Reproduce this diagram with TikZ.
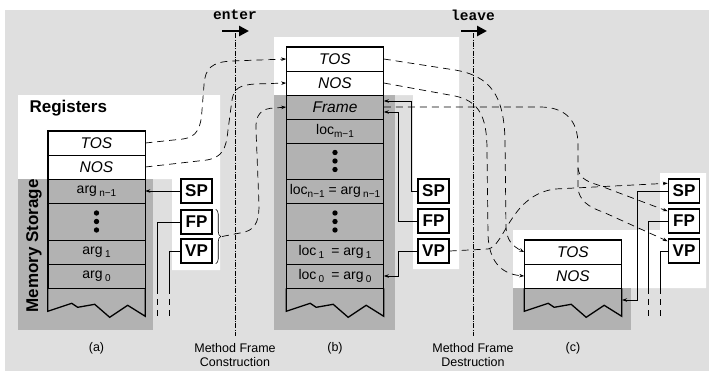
\documentclass[tikz,border=0pt]{standalone}
\usepackage{fontspec}
\setmainfont{Liberation Sans}
\setmonofont{Liberation Mono}
\usetikzlibrary{arrows.meta,decorations.pathreplacing}
\definecolor{bggray}{gray}{0.875}
\definecolor{memgray}{gray}{0.70}
\newcommand\cellfont{\fontsize{14}{16}\selectfont}
\newcommand\itfont{\fontsize{15.5}{17}\selectfont\itshape}
\newcommand\boldfont{\fontsize{17}{19}\selectfont\bfseries}
\newcommand\capfont{\fontsize{12.5}{14.5}\selectfont}
\newcommand\cmdfont{\fontsize{14.5}{16}\selectfont\ttfamily\bfseries}
\newcommand\lowsub[1]{\raisebox{-0.4ex}{\fontsize{10}{10}\selectfont #1}}
\newcommand\stackbottom[1]{%
  \draw[frameline] (#1.south west) -- ++(0,23) -- ++(24,-8) -- ++(6,4) -- ++(17,-3)
    -- ++(15,13) -- ++(18,-12) -- ([yshift=-28pt]#1.south east) -- (#1.south east);}
\begin{document}
\begin{tikzpicture}[x=1pt,y=-1pt,
  >={Stealth[length=5pt,width=3.5pt]},
  cell/.style={draw,line width=0.6pt,fill=memgray,minimum width=97pt,minimum height=24pt,inner sep=0pt,font=\cellfont},
  reg/.style={cell,fill=white,font=\itfont},
  ptr/.style={draw,line width=1.5pt,fill=white,minimum width=31pt,minimum height=24pt,inner sep=0pt,font=\boldfont},
  frameline/.style={line width=1.3pt},
  flow/.style={dash pattern=on 7pt off 5pt,line width=0.7pt},
  link/.style={line width=0.7pt},
  tail/.style={dash pattern=on 6pt off 5pt,line width=0.7pt},
  cut/.style={dash pattern=on 5pt off 1.5pt on 0.8pt off 1.5pt,line width=0.6pt}]
\useasboundingbox (0,0) rectangle (713,373);
\fill[bggray] (5,10) rectangle (709,371);
% white areas and memory
\fill[white] (18,95) -- (220,95) -- (220,270) -- (172,270) -- (172,179) -- (18,179) -- cycle;
\fill[white] (274,37) -- (459,37) -- (459,269) -- (413,269) -- (413,95) -- (274,95) -- cycle;
\fill[white] (513,230) -- (660,230) -- (660,173) -- (706,173) -- (706,288) -- (513,288) -- cycle;
\fill[memgray] (18,179) rectangle (153,330);
\fill[memgray] (274,95) rectangle (395,330);
\fill[memgray] (513,288) rectangle (631,330);

% (a)
\node[anchor=west,font=\boldfont] (regLbl) at (26,108) {Registers};
\node[rotate=90,font=\boldfont] (memLbl) at (34,246) {Memory Storage};
\node[reg] (tosA) at (96.5,143) {TOS};
\node[reg] (nosA) at (96.5,167) {NOS};
\node[cell] (argNA) at (96.5,191) {arg\,\lowsub{n−1}};
\node[cell,minimum height=37pt] (dotsA) at (96.5,221.5) {};
\node[cell] (arg1A) at (96.5,252) {arg\,\lowsub{1}};
\node[cell] (arg0A) at (96.5,276) {arg\,\lowsub{0}};
\draw[frameline] (tosA.north west) rectangle (arg0A.south east);
\draw[frameline] (nosA.south west) -- (nosA.south east);
\draw[frameline] (arg0A.south west) -- (arg0A.south east);
\stackbottom{arg0A}
\node[ptr] (spA) at (196.5,191) {SP};
\node[ptr] (fpA) at (196.5,222) {FP};
\node[ptr] (vpA) at (196.5,251) {VP};

% (b)
\node[reg] (tosB) at (335,59) {TOS};
\node[reg] (nosB) at (335,83) {NOS};
\node[cell,font=\itfont] (frameB) at (335,107) {Frame};
\node[cell] (locMB) at (335,131) {loc\lowsub{m−1}};
\node[cell,minimum height=36pt] (dotsB) at (335,161) {};
\node[cell] (locNB) at (335,191) {loc\lowsub{n−1} = arg\,\lowsub{n−1}};
\node[cell,minimum height=37pt] (dotsBB) at (335,221.5) {};
\node[cell] (loc1B) at (335,252) {loc\,\lowsub{1}\enspace = arg\,\lowsub{1}};
\node[cell] (loc0B) at (335,276) {loc\,\lowsub{0}\enspace = arg\,\lowsub{0}};
\draw[frameline] (tosB.north west) rectangle (loc0B.south east);
\draw[frameline] (nosB.south west) -- (nosB.south east);
\draw[frameline] (frameB.south west) -- (frameB.south east);
\draw[frameline] (loc0B.south west) -- (loc0B.south east);
\stackbottom{loc0B}
\node[ptr] (spB) at (433.5,191) {SP};
\node[ptr] (fpB) at (433.5,221) {FP};
\node[ptr] (vpB) at (433.5,251) {VP};

% (c)
\node[reg] (tosC) at (573,252) {TOS};
\node[reg] (nosC) at (573,276) {NOS};
\draw[frameline] (tosC.north west) rectangle (nosC.south east);
\draw[frameline] (nosC.south west) -- (nosC.south east);
\stackbottom{nosC}
\node[ptr] (spC) at (684,191) {SP};
\node[ptr] (fpC) at (684,221) {FP};
\node[ptr] (vpC) at (684,251) {VP};

\foreach \n in {dotsA,dotsB,dotsBB}
  \foreach \d in {-8.5,0,8.5}
    \fill ([yshift=\d pt]\n.center) circle (2.7pt);

% enter / leave
\node[font=\cmdfont] (enterLbl) at (235,15) {enter};
\node[font=\cmdfont] (leaveLbl) at (473,15) {leave};
\coordinate (enterTop) at (235,33);
\coordinate (enterBot) at (235,336);
\coordinate (leaveTop) at (473,33);
\coordinate (leaveBot) at (473,336);
\draw[cut] (enterTop) -- (enterBot);
\draw[cut] (leaveTop) -- (leaveBot);
\coordinate (enterL) at (222,31);
\coordinate (enterR) at (249,31);
\coordinate (leaveL) at (461,31);
\coordinate (leaveR) at (487,31);
\draw[line width=2.6pt,-{Triangle[length=10pt,width=10pt]}] (enterL) -- (enterR);
\draw[line width=2.6pt,-{Triangle[length=10pt,width=10pt]}] (leaveL) -- (leaveR);
\node[font=\capfont,align=center] (consLbl) at (235,355) {Method Frame\\Construction};
\node[font=\capfont,align=center] (destLbl) at (473,355) {Method Frame\\Destruction};
\node[font=\capfont] (capA) at (96.5,348) {(a)};
\node[font=\capfont] (capB) at (335,348) {(b)};
\node[font=\capfont] (capC) at (573,348) {(c)};

% pointers (a)
\draw[link,->] (spA.west) -- (argNA.east);
\coordinate (fpAcut) at (157,288);
\coordinate (fpAend) at (157,318);
\coordinate (vpAcut) at (169,288);
\coordinate (vpAend) at (169,318);
\draw[link] (fpA.west) -| (fpAcut);
\draw[tail] (fpAcut) -- (fpAend);
\draw[link] (vpA.west) -| (vpAcut);
\draw[tail] (vpAcut) -- (vpAend);
\draw[decorate,decoration={brace,amplitude=5pt},line width=0.6pt]
  ([xshift=3pt]fpA.north east) -- ([xshift=3pt]vpA.south east);
\coordinate (braceA) at (222,236.5);

% pointers (b)
\draw[link,->] (spB.west) -| (411,101) -- ([yshift=6pt]frameB.east);
\draw[link,->] (fpB.west) -| (398,112) -- ([yshift=-5pt]frameB.east);
\draw[link,->] (vpB.west) -| (398,276) -- (loc0B.east);

% pointers (c)
\coordinate (memC) at (622,300);
\coordinate (fpCcut) at (648,288);
\coordinate (fpCend) at (648,318);
\coordinate (vpCcut) at (660,288);
\coordinate (vpCend) at (660,318);
\draw[link,->] (spC.west) -| (637,300) -- (memC);
\draw[link] (fpC.west) -| (fpCcut);
\draw[tail] (fpCcut) -- (fpCend);
\draw[link] (vpC.west) -| (vpCcut);
\draw[tail] (vpCcut) -- (vpCend);

% construction
\draw[flow,->] (tosA.east) -- (183,139) .. controls (197,137) and (201,128) .. (202,110)
  -- (204,85) .. controls (205,68) and (212,62) .. (232,61) -- (tosB.west);
\draw[flow,->] (nosA.east) -- (207,160) .. controls (222,157) and (226,150) .. (228,130)
  -- (232,100) .. controls (234,88) and (240,85) .. (255,84) -- (nosB.west);
\draw[flow,->] (braceA) -- (240,233) .. controls (254,231) and (259,224) .. (259,205)
  -- (256,130) .. controls (255,114) and (262,108) .. (275,108) -- (frameB.west);

% destruction
\coordinate (split) at (578,168);
\draw[flow,->] (tosB.east) -- (455,70) .. controls (490,76) and (504,95) .. (505,140)
  -- (506,228) .. controls (507,240) and (512,246) .. (tosC.west);
\draw[flow,->] (nosB.east) -- (455,96) .. controls (478,101) and (487,115) .. (487,150)
  -- (488,235) .. controls (489,260) and (500,274) .. (nosC.west);
\draw[flow,->] (frameB.east) -- (540,107) .. controls (565,107) and (578,120) .. (578,145)
  -- (split) .. controls (579,177) and (585,181) .. (598,185) -- ([yshift=-3pt]fpC.north west);
\draw[flow,->] (split) -- (578,188) .. controls (579,200) and (588,207) .. (603,212)
  -- ([yshift=-3pt]vpC.north west);
\draw[flow,->] (vpB.east) -- (488,249) .. controls (505,246) and (510,195) .. (555,189)
  -- ([yshift=-5pt]spC.north west);
\end{tikzpicture}
\end{document}
